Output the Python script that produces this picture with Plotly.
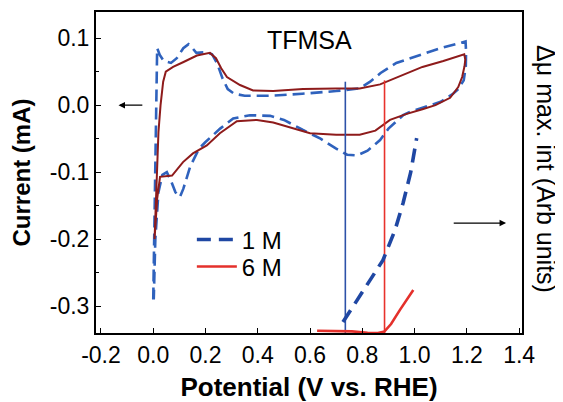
import plotly.graph_objects as go

# ---------------- data ----------------
# Cyclic voltammograms (Current, mA) vs Potential (V vs RHE)
cv_1m_potential = [0.000, 0.003, 0.007, 0.011, 0.015, 0.025, 0.040, 0.068, 0.090, 0.115,
                   0.135, 0.150, 0.165, 0.200, 0.225, 0.245, 0.265, 0.285, 0.310, 0.350,
                   0.450, 0.570, 0.700, 0.790, 0.830, 0.870, 0.930, 1.030, 1.100, 1.195,
                   1.197, 1.196, 1.188, 1.165, 1.147, 1.100, 1.040, 0.983, 0.956, 0.900,
                   0.868, 0.820, 0.780, 0.742, 0.700, 0.640, 0.573, 0.500, 0.447, 0.370,
                   0.306, 0.256, 0.200, 0.175, 0.141, 0.115, 0.102, 0.085, 0.070, 0.052,
                   0.035, 0.020, 0.008, 0.002]
cv_1m_current = [-0.290, -0.200, -0.080, 0.020, 0.085, 0.075, 0.066, 0.063, 0.070, 0.085,
                 0.091, 0.085, 0.078, 0.079, 0.076, 0.062, 0.040, 0.024, 0.017, 0.014,
                 0.014, 0.017, 0.021, 0.025, 0.035, 0.048, 0.063, 0.076, 0.085, 0.095,
                 0.080, 0.058, 0.037, 0.023, 0.017, 0.005, -0.003, -0.010, -0.015, -0.035,
                 -0.052, -0.068, -0.075, -0.074, -0.065, -0.050, -0.037, -0.022, -0.016, -0.015,
                 -0.020, -0.035, -0.055, -0.065, -0.092, -0.125, -0.137, -0.130, -0.115, -0.100,
                 -0.104, -0.130, -0.200, -0.290]

cv_6m_potential = [0.005, 0.012, 0.020, 0.028, 0.038, 0.048, 0.076, 0.114, 0.167, 0.217,
                   0.240, 0.260, 0.282, 0.332, 0.382, 0.459, 0.573, 0.700, 0.790, 0.868,
                   0.906, 0.970, 1.030, 1.110, 1.190, 1.194, 1.191, 1.182, 1.167, 1.136,
                   1.080, 1.030, 0.970, 0.906, 0.880, 0.850, 0.790, 0.700, 0.600, 0.520,
                   0.459, 0.397, 0.320, 0.255, 0.205, 0.152, 0.114, 0.072, 0.045, 0.026,
                   0.015, 0.005]
cv_6m_current = [-0.200, -0.120, -0.040, 0.000, 0.035, 0.050, 0.057, 0.064, 0.074, 0.078,
                 0.070, 0.055, 0.042, 0.030, 0.022, 0.021, 0.024, 0.025, 0.025, 0.031,
                 0.037, 0.048, 0.057, 0.066, 0.076, 0.068, 0.058, 0.042, 0.027, 0.011,
                 0.000, -0.006, -0.013, -0.022, -0.030, -0.038, -0.044, -0.044, -0.042, -0.033,
                 -0.026, -0.022, -0.024, -0.042, -0.060, -0.072, -0.085, -0.105, -0.106, -0.107,
                 -0.140, -0.200]

# Delta-mu max. intensity (arbitrary units, right axis)
dmu_1m_potential = [0.726, 0.803, 0.879, 0.925, 0.956, 0.985, 1.008]
dmu_1m_intensity = [3.4, 13.0, 22.7, 32.0, 40.5, 50.0, 60.7]
dmu_6m_potential = [0.627, 0.700, 0.760, 0.820, 0.860, 0.885, 0.910, 0.944, 0.970, 0.995]
dmu_6m_intensity = [0.7, 0.7, 0.5, 0.1, 0.0, 0.5, 2.8, 7.2, 10.5, 13.4]

# onset potentials (vertical markers) and where they start (current, mA)
onset_potential = [0.735, 0.885]
onset_top_current = [0.035, 0.037]

series_names = ["1 M", "6 M"]

x_tick_vals = [-0.2, 0.0, 0.2, 0.4, 0.6, 0.8, 1.0, 1.2, 1.4]
x_tick_labels = ["-0.2", "0.0", "0.2", "0.4", "0.6", "0.8", "1.0", "1.2", "1.4"]
y_tick_vals = [-0.3, -0.2, -0.1, 0.0, 0.1]
y_tick_labels = ["-0.3", "-0.2", "-0.1", "0.0", "0.1"]
y_minor_vals = [-0.25, -0.15, -0.05, 0.05]

X_RANGE = [-0.219, 1.411]
Y_RANGE = [-0.340, 0.139]

# ---------------- styles ----------------
FONT = "Liberation Sans, Arial, Helvetica, sans-serif"
BLUE_CV = "#2f62bd"
RED_CV = "#8e1b1b"
BLUE_DMU = "#1f47a3"
RED_DMU = "#e4302b"
BLUE_V = "#2d52a8"
RED_V = "#e8322c"

fig = go.Figure()

fig.add_trace(go.Scatter(x=cv_1m_potential, y=cv_1m_current, mode="lines",
                         line=dict(color=BLUE_CV, width=2.6, dash="12px,6px"),
                         showlegend=False, hoverinfo="skip"))
fig.add_trace(go.Scatter(x=cv_6m_potential, y=cv_6m_current, mode="lines",
                         line=dict(color=RED_CV, width=2.0),
                         showlegend=False, hoverinfo="skip"))

for xv, yt, col in zip(onset_potential, onset_top_current, [BLUE_V, RED_V]):
    fig.add_trace(go.Scatter(x=[xv, xv], y=[yt, Y_RANGE[0]], mode="lines",
                             line=dict(color=col, width=1.6),
                             showlegend=False, hoverinfo="skip"))

fig.add_trace(go.Scatter(x=dmu_1m_potential, y=dmu_1m_intensity, mode="lines",
                         name=series_names[0], yaxis="y2", legend="legend",
                         line=dict(color=BLUE_DMU, width=3.6, dash="14px,8px")))
fig.add_trace(go.Scatter(x=dmu_6m_potential, y=dmu_6m_intensity, mode="lines",
                         name=series_names[1], yaxis="y2", legend="legend2",
                         line=dict(color=RED_DMU, width=2.6)))

legend_common = dict(xanchor="left", yanchor="middle", itemwidth=40,
                     bgcolor="rgba(0,0,0,0)", font=dict(size=24, family=FONT))

# the page body adds an 8 px offset; figure is sized/margined to compensate
fig.update_layout(
    width=555, height=394,
    margin=dict(l=88, r=41, t=4, b=69, autoexpand=False),
    paper_bgcolor="white", plot_bgcolor="white",
    font=dict(family=FONT, size=23, color="black"),
    showlegend=True,
    legend=dict(x=0.225, y=0.290, **legend_common),
    legend2=dict(x=0.225, y=0.206, **legend_common),
    xaxis=dict(range=X_RANGE, tickmode="array", tickvals=x_tick_vals,
               ticktext=x_tick_labels, ticks="inside", ticklen=5, tickwidth=1,
               tickcolor="black", showline=True, linecolor="black", linewidth=2,
               mirror=True, showgrid=False, zeroline=False, automargin=False,
               tickfont=dict(size=23),
               title=dict(text="<b>Potential (V vs. RHE)</b>",
                          font=dict(size=26), standoff=15)),
    yaxis=dict(range=Y_RANGE, tickmode="array", tickvals=y_tick_vals,
               ticktext=y_tick_labels, ticks="inside", ticklen=5, tickwidth=1,
               tickcolor="black", showline=True, linecolor="black", linewidth=2,
               mirror=True, showgrid=False, zeroline=False, automargin=False,
               tickfont=dict(size=23),
               minor=dict(tickvals=y_minor_vals, ticks="inside", ticklen=3,
                          tickcolor="black"),
               title=dict(text="<b>Current (mA)</b>", font=dict(size=24),
                          standoff=14)),
    yaxis2=dict(range=[0, 100], overlaying="y", side="right",
                showticklabels=False, ticks="", showgrid=False,
                zeroline=False, showline=False, automargin=False),
)

# TFMSA label
fig.add_annotation(x=0.596, y=0.097, xref="x", yref="y", text="TFMSA",
                   showarrow=False, font=dict(size=25, family=FONT))
# right axis label
fig.add_annotation(x=1.056, y=0.511, xref="paper", yref="paper",
                   xanchor="center", yanchor="middle",
                   text="\u0394\u03bc max. int (Arb units)", textangle=90,
                   showarrow=False, font=dict(size=25, family=FONT))
# axis-pointer arrows
fig.add_annotation(x=-0.133, y=0.0, ax=-0.036, ay=0.0, xref="x", yref="y",
                   axref="x", ayref="y", text="", showarrow=True,
                   arrowhead=2, arrowsize=1, arrowwidth=1.3, arrowcolor="black")
fig.add_annotation(x=1.350, y=-0.176, ax=1.144, ay=-0.176, xref="x", yref="y",
                   axref="x", ayref="y", text="", showarrow=True,
                   arrowhead=2, arrowsize=1, arrowwidth=1.3, arrowcolor="black")

fig.write_html("out.html")
